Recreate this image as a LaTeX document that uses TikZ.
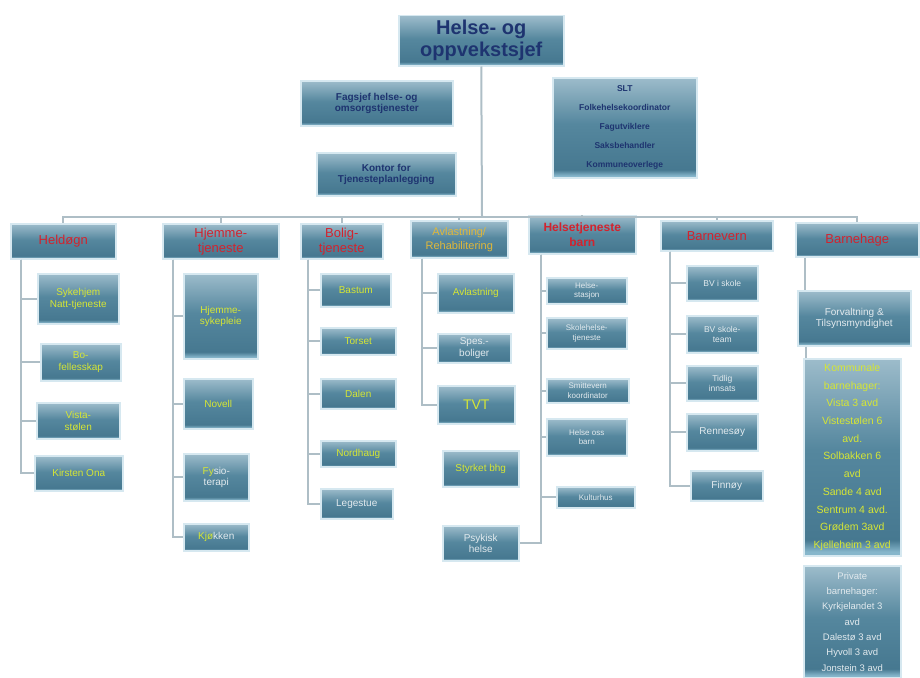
\documentclass[tikz,border=0pt]{standalone}
\usepackage{fontspec}
\setmainfont{Liberation Sans}
\usetikzlibrary{calc}
\definecolor{cnavy}{HTML}{1E3470}
\definecolor{cred}{HTML}{D2232E}
\definecolor{cylw}{HTML}{D6E634}
\definecolor{cwht}{HTML}{E2EAEE}
\definecolor{camb}{HTML}{E0B83A}
\definecolor{cline}{HTML}{AEBEC6}
\definecolor{cedge}{HTML}{D6E8F0}
\definecolor{ctop}{HTML}{9DBCCB}
\definecolor{cmid}{HTML}{55879E}
\definecolor{cdark}{HTML}{467890}
\definecolor{cbase}{HTML}{86B6CB}
\pgfdeclareverticalshading{boxshade}{100bp}{color(0bp)=(cbase); color(26bp)=(cbase); color(29bp)=(cdark); color(52bp)=(cmid); color(75bp)=(ctop); color(100bp)=(ctop)}
\tikzset{
  box/.style={shading=boxshade,draw=cedge,line width=1.5pt,inner sep=1pt,align=center,anchor=north west,font=\fontsize{10}{11.5}\selectfont},
  sz/.style 2 args={minimum width=#1pt,minimum height=#2pt},
  head/.style={box,text=cred,font=\fontsize{13}{15}\selectfont},
  yl/.style={text=cylw},
  wh/.style={text=cwht},
  whs/.style={text=cwht,font=\fontsize{8}{9.5}\selectfont},
  whm/.style={text=cwht,font=\fontsize{8.5}{10}\selectfont},
  ylb/.style={text=cylw,font=\fontsize{14}{15}\selectfont},
  conn/.style={draw=cline,line width=2pt}}

\begin{document}
\begin{tikzpicture}[x=1pt,y=-1pt]
\useasboundingbox (0,0) rectangle (920,677);
\clip (0,0) rectangle (920,677);
% top level
\node[box,sz={165}{50},text=cnavy,font=\bfseries\fontsize{20}{22}\selectfont] (chief) at (398,15) {Helse- og\\oppvekstsjef};
\node[box,sz={152}{45},text=cnavy,font=\bfseries\fontsize{10}{11}\selectfont] (fag) at (300,80) {Fagsjef helse- og\\omsorgstjenester};
\node[box,sz={139}{43},text=cnavy,font=\bfseries\fontsize{10}{11}\selectfont] (kontor) at (316,152) {Kontor for\\Tjenesteplanlegging};
\node[box,sz={144}{100},text=cnavy,font=\bfseries\fontsize{8.5}{19}\selectfont] (slt) at (552,77) {SLT\\Folkehelsekoordinator\\Fagutviklere\\Saksbehandler\\Kommuneoverlege};
% level one
\node[head,sz={105}{35}] (hd) at (10,223) {Heldøgn};
\node[head,sz={116}{35}] (hj) at (162,223) {Hjemme-\\tjeneste};
\node[head,sz={82}{35}] (bo) at (300,223) {Bolig-\\tjeneste};
\node[head,sz={97}{37},text=camb,font=\fontsize{11}{14}\selectfont] (av) at (410,220) {Avlastning/\\Rehabilitering};
\node[head,sz={107}{38},font=\bfseries\fontsize{12}{15}\selectfont] (hb) at (528,215) {Helsetjeneste\\barn};
\node[head,sz={112}{30}] (bv) at (660,220) {Barnevern};
\node[head,sz={123}{34}] (bh) at (795,222) {Barnehage};
\coordinate (bus) at (482,217);
\draw[conn] (chief.south) -- (bus);
\foreach \n in {hd,hj,bo,av,hb,bv,bh}
  \draw[conn] (bus) -| (\n.north);
% units
\foreach \nm/\x/\y/\w/\h/\st/\txt in {%
  hd1/37/273/81/50/yl/{Sykehjem\\Natt-tjeneste},
  hd2/40/343/80/37/yl/{Bo-\\fellesskap},
  hd3/36/402/83/36/yl/{Vista-\\stølen},
  hd4/34/455/88/35/yl/{Kirsten Ona},
  hj1/183/273/74/85/yl/{Hjemme-\\sykepleie},
  hj2/183/378/69/50/yl/{Novell},
  hj3/183/453/65/47/wh/{{\color{cylw}Fy}sio-\\terapi},
  hj4/183/523/65/27/wh/{{\color{cylw}Kjø}kken},
  bo1/320/273/70/33/yl/{Bastum},
  bo2/320/327/75/27/yl/{Torset},
  bo3/320/378/75/30/yl/{Dalen},
  bo4/320/440/75/26/yl/{Nordhaug},
  bo5/320/488/72/30/wh/{Legestue},
  av1/437/273/76/39/yl/{Avlastning},
  av2/437/333/73/29/wh/{Spes.-\\boliger},
  av3/437/385/77/38/ylb/{TVT},
  av4/442/450/76/36/yl/{Styrket bhg},
  av5/442/525/76/35/wh/{Psykisk\\helse},
  hb1/546/277/80/26/whs/{Helse-\\stasjon},
  hb2/546/317/80/31/whs/{Skolehelse-\\tjeneste},
  hb3/546/378/82/24/whs/{Smittevern\\koordinator},
  hb4/546/418/80/37/whs/{Helse oss\\barn},
  hb5/556/486/78/21/whs/{Kulturhus},
  bv1/686/265/71/35/whm/{BV i skole},
  bv2/686/315/71/37/whm/{BV skole-\\team},
  bv3/686/365/71/35/whm/{Tidlig\\innsats},
  bv4/686/413/71/37/wh/{Rennesøy},
  bv5/690/470/72/30/wh/{Finnøy},
  bh1/797/290/113/55/wh/{Forvaltning \&\\Tilsynsmyndighet}}
  \node[box,sz={\w}{\h},\st] (\nm) at (\x,\y) {\txt};
\node[box,sz={97}{197},text=cylw,font=\fontsize{10.5}{17.7}\selectfont] (bh2) at (803,358) {Kommunale\\barnehager:\\Vista 3 avd\\Vistestølen 6\\avd.\\Solbakken 6\\avd\\Sande 4 avd\\Sentrum 4 avd.\\Grødem 3avd\\Kjelleheim 3 avd};
\node[box,sz={97}{112},text=cwht,font=\fontsize{9.5}{15.3}\selectfont] (bh3) at (803,565) {Private\\barnehager:\\Kyrkjelandet 3\\avd\\Dalestø 3 avd\\Hyvoll 3 avd\\Jonstein 3 avd};
% connectors to units
\foreach \p/\s/\c in {hd/11/hd1,hd/11/hd2,hd/11/hd3,hd/11/hd4,
  hj/11/hj1,hj/11/hj2,hj/11/hj3,hj/11/hj4,
  bo/8/bo1,bo/8/bo2,bo/8/bo3,bo/8/bo4,bo/8/bo5,
  av/12/av1,av/12/av2,av/12/av3,
  hb/13/hb1,hb/13/hb2,hb/13/hb3,hb/13/hb4,hb/13/hb5,
  bv/10/bv1,bv/10/bv2,bv/10/bv3,bv/10/bv4,bv/10/bv5}
  \draw[conn] ([xshift=\s pt]\p.south west) |- (\c.west);
\draw[conn] ([xshift=13pt]hb.south west) |- (av5.east);
\draw[conn] ([xshift=10pt]bh.south west) -- ([xshift=8pt]bh1.north west);
\draw[conn] ([xshift=9pt]bh1.south west) -- ([xshift=3pt]bh2.north west);
\end{tikzpicture}
\end{document}
